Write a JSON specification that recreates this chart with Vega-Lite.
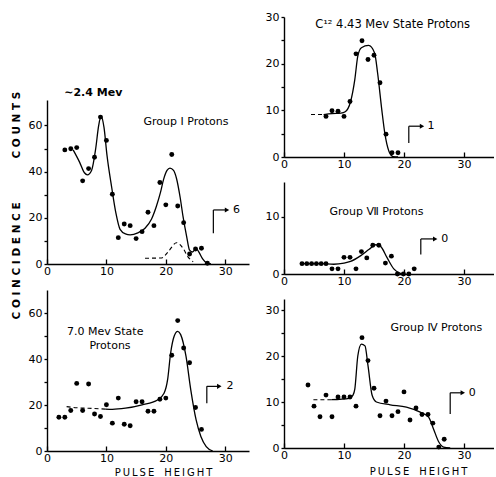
{
  "$schema": "https://vega.github.io/schema/vega-lite/v6.json",
  "padding": {"left": 10, "top": 11, "right": 0, "bottom": 0},
  "background": "white",
  "spacing": 16,
  "hconcat": [
    {
      "vconcat": [
        {
          "width": 202,
          "height": 57,
          "data": {"values": []},
          "mark": {"type": "point"},
          "encoding": {}
        },
        {
          "width": 202,
          "height": 164,
          "encoding": {
            "x": {"field": "x", "type": "quantitative", "scale": {"domain": [0, 34], "nice": false},
                  "axis": {"values": [0, 10, 20, 30], "tickSize": -5, "labelPadding": 6, "labelFlush": false, "title": null}},
            "y": {"field": "y", "type": "quantitative", "scale": {"domain": [0, 71], "nice": false},
                  "axis": {"values": [0, 10, 20, 30, 40, 50, 60], "labelExpr": "datum.value % 20 === 0 ? datum.label : ''", "tickSize": 3, "labelPadding": 2,
                           "title": "C O I N C I D E N C E\u00a0\u00a0\u00a0\u00a0\u00a0\u00a0\u00a0\u00a0\u00a0\u00a0\u00a0\u00a0C O U N T S", "titleX": -31, "titleY": 105, "titleAngle": -90, "titleBaseline": "middle", "titleAlign": "center", "titleFontSize": 10.5, "titleFontWeight": "bold"}}
          },
          "layer": [
            {
              "data": {"values": [
                {"x": 3, "y": 49.4}, {"x": 4, "y": 49.9}, {"x": 5, "y": 50.4}, {"x": 6, "y": 36}, {"x": 7, "y": 41.3},
                {"x": 8, "y": 46.2}, {"x": 9, "y": 63.6}, {"x": 10, "y": 53.5}, {"x": 11, "y": 30.2}, {"x": 12, "y": 11.4},
                {"x": 13, "y": 17.3}, {"x": 14, "y": 16.6}, {"x": 15, "y": 11}, {"x": 16, "y": 14}, {"x": 17, "y": 22.4},
                {"x": 18, "y": 16.6}, {"x": 19, "y": 35.3}, {"x": 20, "y": 25.6}, {"x": 21, "y": 47.4}, {"x": 22, "y": 25.1},
                {"x": 23, "y": 17.9}, {"x": 24, "y": 4.3}, {"x": 25, "y": 6.5}, {"x": 26, "y": 6.8}, {"x": 27, "y": 0.3}
              ]},
              "mark": {"type": "circle", "size": 24, "color": "black", "opacity": 1}
            },
            {
              "data": {"values": [
                {"x": 4.4, "y": 49.4}, {"x": 5.5, "y": 44}, {"x": 6.3, "y": 39.5}, {"x": 6.8, "y": 38.6}, {"x": 7.5, "y": 40.5},
                {"x": 8.2, "y": 50}, {"x": 8.7, "y": 60}, {"x": 9.1, "y": 64}, {"x": 9.6, "y": 59}, {"x": 10.1, "y": 47},
                {"x": 10.9, "y": 33}, {"x": 11.6, "y": 22}, {"x": 12.3, "y": 15}, {"x": 13.2, "y": 13}, {"x": 14, "y": 12.6},
                {"x": 15.3, "y": 13.5}, {"x": 16.5, "y": 15.5}, {"x": 17.6, "y": 19.5}, {"x": 18.4, "y": 24.9}, {"x": 19.1, "y": 31},
                {"x": 19.6, "y": 36.4}, {"x": 20.2, "y": 40.5}, {"x": 20.7, "y": 41.5}, {"x": 21.3, "y": 40.5}, {"x": 21.8, "y": 37},
                {"x": 22.4, "y": 29}, {"x": 22.9, "y": 20.5}, {"x": 23.5, "y": 12}, {"x": 24, "y": 6}, {"x": 24.5, "y": 5.2},
                {"x": 25.1, "y": 6.8}, {"x": 25.6, "y": 5}, {"x": 26.2, "y": 2.2}, {"x": 26.8, "y": 0.6}, {"x": 27.6, "y": 0}
              ]},
              "mark": {"type": "line", "interpolate": "monotone", "color": "black", "strokeWidth": 1.3}
            },
            {
              "data": {"values": [
                {"x": 16.5, "y": 2.5}, {"x": 19.3, "y": 2.6}, {"x": 20.4, "y": 5.3}, {"x": 21.8, "y": 9.2}, {"x": 22.9, "y": 6.8},
                {"x": 23.7, "y": 3.2}, {"x": 24.6, "y": 1}
              ]},
              "mark": {"type": "line", "interpolate": "monotone", "color": "black", "strokeWidth": 1.1, "strokeDash": [4, 3]}
            },
            {
              "data": {"values": [{"x": 23.4, "y": 61.5, "t": "Group Ⅰ Protons"}]},
              "mark": {"type": "text", "fontSize": 11, "font": "DejaVu Sans", "color": "black"},
              "encoding": {"text": {"field": "t"}}
            },
            {
              "data": {"values": [{"x": 2.9, "y": 73.9, "t": "∼2.4 Mev"}]},
              "mark": {"type": "text", "align": "left", "fontSize": 11, "fontWeight": "bold", "font": "DejaVu Sans", "color": "black"},
              "encoding": {"text": {"field": "t"}}
            },
            {
              "data": {"values": [{"x": 28, "y": 13.3, "ytop": 23.4, "xend": 30.3, "xl": 31.3, "label": "6"}]},
              "layer": [
                {"mark": {"type": "rule", "color": "black", "strokeWidth": 1.2},
                 "encoding": {"y2": {"field": "ytop"}}},
                {"mark": {"type": "rule", "color": "black", "strokeWidth": 1.2},
                 "encoding": {"x2": {"field": "xend"}, "y": {"field": "ytop", "type": "quantitative", "title": null}}},
                {"mark": {"type": "point", "shape": "triangle-right", "filled": true, "size": 26, "color": "black", "opacity": 1},
                 "encoding": {"x": {"field": "xend", "type": "quantitative", "title": null}, "y": {"field": "ytop", "type": "quantitative", "title": null}}},
                {"mark": {"type": "text", "align": "left", "fontSize": 11, "font": "DejaVu Sans", "color": "black"},
                 "encoding": {"x": {"field": "xl", "type": "quantitative", "title": null}, "y": {"field": "ytop", "type": "quantitative", "title": null}, "text": {"field": "label"}}}
              ]
            }
          ]
        },
        {
          "width": 202,
          "height": 161,
          "encoding": {
            "x": {"field": "x", "type": "quantitative", "scale": {"domain": [0, 34], "nice": false},
                  "axis": {"values": [0, 10, 20, 30], "tickSize": -5, "labelPadding": 6, "labelFlush": false,
                           "title": "P\u2009U\u2009L\u2009S\u2009E\u2003H\u2009E\u2009I\u2009G\u2009H\u2009T", "titleX": 116, "titleY": 21, "titleBaseline": "middle", "titleAlign": "center", "titleFontSize": 10, "titleFontWeight": "normal"}},
            "y": {"field": "y", "type": "quantitative", "scale": {"domain": [0, 70], "nice": false},
                  "axis": {"values": [0, 10, 20, 30, 40, 50, 60], "labelExpr": "datum.value % 20 === 0 ? datum.label : ''", "tickSize": 3, "labelPadding": 2, "title": null}}
          },
          "layer": [
            {
              "data": {"values": [
                {"x": 2, "y": 14.7}, {"x": 3, "y": 14.7}, {"x": 4, "y": 17.6}, {"x": 5, "y": 29.4}, {"x": 6, "y": 17.6},
                {"x": 7, "y": 29.1}, {"x": 8, "y": 16.1}, {"x": 9, "y": 15}, {"x": 10, "y": 20.1}, {"x": 11, "y": 12.1},
                {"x": 12, "y": 23}, {"x": 13, "y": 11.6}, {"x": 14, "y": 11}, {"x": 15, "y": 21.4}, {"x": 16, "y": 21.4},
                {"x": 17, "y": 17.3}, {"x": 18, "y": 17.3}, {"x": 19, "y": 22.5}, {"x": 20, "y": 23}, {"x": 21, "y": 41.6},
                {"x": 22, "y": 56.7}, {"x": 23, "y": 44.8}, {"x": 24, "y": 38.4}, {"x": 25, "y": 18.9}, {"x": 26, "y": 9.4}
              ]},
              "mark": {"type": "circle", "size": 24, "color": "black", "opacity": 1}
            },
            {
              "data": {"values": [
                {"x": 9.8, "y": 18.2}, {"x": 11, "y": 18.1}, {"x": 13.2, "y": 18.6}, {"x": 16, "y": 20.1}, {"x": 18.6, "y": 22.2},
                {"x": 19.7, "y": 25.1}, {"x": 20.3, "y": 31}, {"x": 20.8, "y": 42.4}, {"x": 21.4, "y": 49.9}, {"x": 22, "y": 52},
                {"x": 22.5, "y": 50.6}, {"x": 23.4, "y": 41.1}, {"x": 24.2, "y": 26.6}, {"x": 25.1, "y": 13.5}, {"x": 25.9, "y": 6.3},
                {"x": 26.8, "y": 1.9}, {"x": 27.9, "y": 0}
              ]},
              "mark": {"type": "line", "interpolate": "monotone", "color": "black", "strokeWidth": 1.3}
            },
            {
              "data": {"values": [{"x": 3.3, "y": 19.3}, {"x": 5, "y": 18.8}, {"x": 7, "y": 18.6}, {"x": 9.8, "y": 18.2}]},
              "mark": {"type": "line", "interpolate": "monotone", "color": "black", "strokeWidth": 1.1, "strokeDash": [4, 3]}
            },
            {
              "data": {"values": [{"x": 9.8, "y": 51.6, "t": "7.0 Mev State"}, {"x": 10.6, "y": 45.5, "t": "Protons"}]},
              "mark": {"type": "text", "fontSize": 11, "font": "DejaVu Sans", "color": "black"},
              "encoding": {"text": {"field": "t"}}
            },
            {
              "data": {"values": [{"x": 26.9, "y": 20.8, "ytop": 28.1, "xend": 29, "xl": 30.2, "label": "2"}]},
              "layer": [
                {"mark": {"type": "rule", "color": "black", "strokeWidth": 1.2},
                 "encoding": {"y2": {"field": "ytop"}}},
                {"mark": {"type": "rule", "color": "black", "strokeWidth": 1.2},
                 "encoding": {"x2": {"field": "xend"}, "y": {"field": "ytop", "type": "quantitative", "title": null}}},
                {"mark": {"type": "point", "shape": "triangle-right", "filled": true, "size": 26, "color": "black", "opacity": 1},
                 "encoding": {"x": {"field": "xend", "type": "quantitative", "title": null}, "y": {"field": "ytop", "type": "quantitative", "title": null}}},
                {"mark": {"type": "text", "align": "left", "fontSize": 11, "font": "DejaVu Sans", "color": "black"},
                 "encoding": {"x": {"field": "xl", "type": "quantitative", "title": null}, "y": {"field": "ytop", "type": "quantitative", "title": null}, "text": {"field": "label"}}}
              ]
            }
          ]
        }
      ],
      "spacing": 26,
      "bounds": "flush"
    },
    {
      "vconcat": [
        {
          "width": 210,
          "height": 140,
          "encoding": {
            "x": {"field": "x", "type": "quantitative", "scale": {"domain": [0, 35], "nice": false},
                  "axis": {"values": [0, 10, 20, 30], "tickSize": -5, "labelPadding": 6, "labelFlush": false, "title": null}},
            "y": {"field": "y", "type": "quantitative", "scale": {"domain": [0, 30], "nice": false},
                  "axis": {"values": [0, 5, 10, 15, 20, 25, 30], "labelExpr": "datum.value % 10 === 0 ? datum.label : ''", "tickSize": 3, "labelPadding": 2, "title": null}}
          },
          "layer": [
            {
              "data": {"values": [
                {"x": 7, "y": 8.7}, {"x": 8, "y": 9.9}, {"x": 9, "y": 9.8}, {"x": 10, "y": 8.7}, {"x": 11, "y": 11.9},
                {"x": 12, "y": 22.1}, {"x": 13, "y": 24.9}, {"x": 14, "y": 20.9}, {"x": 15, "y": 21.8}, {"x": 16, "y": 15.9},
                {"x": 17, "y": 4.9}, {"x": 18, "y": 0.9}, {"x": 19, "y": 0.9}
              ]},
              "mark": {"type": "circle", "size": 24, "color": "black", "opacity": 1}
            },
            {
              "data": {"values": [
                {"x": 6.6, "y": 9.1}, {"x": 8, "y": 9.3}, {"x": 9.5, "y": 9.4}, {"x": 10.2, "y": 9.7}, {"x": 11.1, "y": 11.9},
                {"x": 11.8, "y": 16.6}, {"x": 12.3, "y": 21.6}, {"x": 12.9, "y": 23.4}, {"x": 14.1, "y": 23.9}, {"x": 15.1, "y": 22.3},
                {"x": 15.6, "y": 18}, {"x": 16.3, "y": 10.1}, {"x": 16.8, "y": 5.1}, {"x": 17.5, "y": 1.2}, {"x": 18.2, "y": 0.1}, {"x": 19, "y": 0}
              ]},
              "mark": {"type": "line", "interpolate": "monotone", "color": "black", "strokeWidth": 1.3}
            },
            {
              "data": {"values": [{"x": 4.5, "y": 9.1}, {"x": 6.6, "y": 9.1}]},
              "mark": {"type": "line", "color": "black", "strokeWidth": 1.1, "strokeDash": [4, 3]}
            },
            {
              "data": {"values": [{"x": 5.2, "y": 28.2, "t": "C¹² 4.43 Mev State Protons"}]},
              "mark": {"type": "text", "align": "left", "fontSize": 11.5, "font": "DejaVu Sans", "color": "black"},
              "encoding": {"text": {"field": "t"}}
            },
            {
              "data": {"values": [{"x": 20.8, "y": 3, "ytop": 6.6, "xend": 23, "xl": 23.9, "label": "1"}]},
              "layer": [
                {"mark": {"type": "rule", "color": "black", "strokeWidth": 1.2},
                 "encoding": {"y2": {"field": "ytop"}}},
                {"mark": {"type": "rule", "color": "black", "strokeWidth": 1.2},
                 "encoding": {"x2": {"field": "xend"}, "y": {"field": "ytop", "type": "quantitative", "title": null}}},
                {"mark": {"type": "point", "shape": "triangle-right", "filled": true, "size": 26, "color": "black", "opacity": 1},
                 "encoding": {"x": {"field": "xend", "type": "quantitative", "title": null}, "y": {"field": "ytop", "type": "quantitative", "title": null}}},
                {"mark": {"type": "text", "align": "left", "fontSize": 11, "font": "DejaVu Sans", "color": "black"},
                 "encoding": {"x": {"field": "xl", "type": "quantitative", "title": null}, "y": {"field": "ytop", "type": "quantitative", "title": null}, "text": {"field": "label"}}}
              ]
            }
          ]
        },
        {
          "width": 210,
          "height": 92,
          "encoding": {
            "x": {"field": "x", "type": "quantitative", "scale": {"domain": [0, 35], "nice": false},
                  "axis": {"values": [0, 10, 20, 30], "tickSize": -5, "labelPadding": 6, "labelFlush": false, "title": null}},
            "y": {"field": "y", "type": "quantitative", "scale": {"domain": [0, 16], "nice": false},
                  "axis": {"values": [0, 10], "tickSize": 3, "labelPadding": 2, "title": null}}
          },
          "layer": [
            {
              "data": {"values": [
                {"x": 3, "y": 1.8}, {"x": 3.8, "y": 1.8}, {"x": 4.6, "y": 1.8}, {"x": 5.4, "y": 1.8}, {"x": 6.2, "y": 1.8}, {"x": 7, "y": 1.8},
                {"x": 8, "y": 0.9}, {"x": 9, "y": 0.9}, {"x": 10, "y": 2.9}, {"x": 11, "y": 2.9}, {"x": 12, "y": 0.9},
                {"x": 12.9, "y": 3.9}, {"x": 13.8, "y": 2.8}, {"x": 14.8, "y": 5}, {"x": 15.8, "y": 5}, {"x": 16.9, "y": 1.9},
                {"x": 17.9, "y": 3.1}, {"x": 18.9, "y": 0}, {"x": 19.9, "y": 0}, {"x": 20.8, "y": 0}, {"x": 21.7, "y": 0.9}
              ]},
              "mark": {"type": "circle", "size": 24, "color": "black", "opacity": 1}
            },
            {
              "data": {"values": [
                {"x": 3, "y": 1.8}, {"x": 6, "y": 1.8}, {"x": 8.3, "y": 1.7}, {"x": 10, "y": 1.9}, {"x": 11.1, "y": 2.2},
                {"x": 12.8, "y": 3.2}, {"x": 14.2, "y": 4.3}, {"x": 15.3, "y": 5.1}, {"x": 16.1, "y": 4.8}, {"x": 17.2, "y": 2.8},
                {"x": 18.3, "y": 0.9}, {"x": 19.2, "y": 0.2}, {"x": 19.7, "y": 0}
              ]},
              "mark": {"type": "line", "interpolate": "monotone", "color": "black", "strokeWidth": 1.3}
            },
            {
              "data": {"values": [{"x": 15.4, "y": 10.7, "t": "Group Ⅶ Protons"}]},
              "mark": {"type": "text", "fontSize": 11, "font": "DejaVu Sans", "color": "black"},
              "encoding": {"text": {"field": "t"}}
            },
            {
              "data": {"values": [{"x": 22.8, "y": 3.4, "ytop": 6.1, "xend": 25.2, "xl": 26.2, "label": "0"}]},
              "layer": [
                {"mark": {"type": "rule", "color": "black", "strokeWidth": 1.2},
                 "encoding": {"y2": {"field": "ytop"}}},
                {"mark": {"type": "rule", "color": "black", "strokeWidth": 1.2},
                 "encoding": {"x2": {"field": "xend"}, "y": {"field": "ytop", "type": "quantitative", "title": null}}},
                {"mark": {"type": "point", "shape": "triangle-right", "filled": true, "size": 26, "color": "black", "opacity": 1},
                 "encoding": {"x": {"field": "xend", "type": "quantitative", "title": null}, "y": {"field": "ytop", "type": "quantitative", "title": null}}},
                {"mark": {"type": "text", "align": "left", "fontSize": 11, "font": "DejaVu Sans", "color": "black"},
                 "encoding": {"x": {"field": "xl", "type": "quantitative", "title": null}, "y": {"field": "ytop", "type": "quantitative", "title": null}, "text": {"field": "label"}}}
              ]
            }
          ]
        },
        {
          "width": 210,
          "height": 149,
          "encoding": {
            "x": {"field": "x", "type": "quantitative", "scale": {"domain": [0, 35], "nice": false},
                  "axis": {"values": [0, 10, 20, 30], "tickSize": -5, "labelPadding": 6, "labelFlush": false,
                           "title": "P\u2009U\u2009L\u2009S\u2009E\u2003H\u2009E\u2009I\u2009G\u2009H\u2009T", "titleX": 134, "titleY": 23, "titleBaseline": "middle", "titleAlign": "center", "titleFontSize": 10, "titleFontWeight": "normal"}},
            "y": {"field": "y", "type": "quantitative", "scale": {"domain": [0, 32.4], "nice": false},
                  "axis": {"values": [0, 5, 10, 15, 20, 25, 30], "labelExpr": "datum.value % 10 === 0 ? datum.label : ''", "tickSize": 3, "labelPadding": 2, "title": null}}
          },
          "layer": [
            {
              "data": {"values": [
                {"x": 4, "y": 13.7}, {"x": 5, "y": 9.1}, {"x": 6, "y": 6.8}, {"x": 7, "y": 11.5}, {"x": 8, "y": 6.8},
                {"x": 9, "y": 11.1}, {"x": 10, "y": 11.1}, {"x": 11, "y": 11.1}, {"x": 12, "y": 9.1}, {"x": 13, "y": 24},
                {"x": 14, "y": 19}, {"x": 15, "y": 13}, {"x": 16, "y": 7}, {"x": 17, "y": 10.2}, {"x": 18, "y": 7},
                {"x": 19, "y": 7.9}, {"x": 20, "y": 12.2}, {"x": 21, "y": 6.1}, {"x": 22, "y": 8.7}, {"x": 23, "y": 7.3},
                {"x": 24, "y": 7.3}, {"x": 24.8, "y": 5.4}, {"x": 25.8, "y": 0.2}, {"x": 26.7, "y": 1.9}
              ]},
              "mark": {"type": "circle", "size": 24, "color": "black", "opacity": 1}
            },
            {
              "data": {"values": [
                {"x": 7.9, "y": 10.5}, {"x": 10.9, "y": 10.8}, {"x": 11.5, "y": 11.5}, {"x": 11.8, "y": 12.8}, {"x": 12.3, "y": 20},
                {"x": 12.9, "y": 22.6}, {"x": 13.5, "y": 22.2}, {"x": 14, "y": 17.9}, {"x": 14.7, "y": 11.4}, {"x": 15.4, "y": 10},
                {"x": 17.7, "y": 9.4}, {"x": 20.4, "y": 8.9}, {"x": 22.7, "y": 7.8}, {"x": 24.1, "y": 6.7}, {"x": 24.9, "y": 4.2},
                {"x": 25.8, "y": 1.3}, {"x": 26.6, "y": 0.2}, {"x": 27.7, "y": 0}
              ]},
              "mark": {"type": "line", "interpolate": "monotone", "color": "black", "strokeWidth": 1.3}
            },
            {
              "data": {"values": [{"x": 4.9, "y": 10.5}, {"x": 7.9, "y": 10.5}]},
              "mark": {"type": "line", "color": "black", "strokeWidth": 1.1, "strokeDash": [4, 3]}
            },
            {
              "data": {"values": [{"x": 25.4, "y": 26, "t": "Group Ⅳ Protons"}]},
              "mark": {"type": "text", "fontSize": 11, "font": "DejaVu Sans", "color": "black"},
              "encoding": {"text": {"field": "t"}}
            },
            {
              "data": {"values": [{"x": 27.7, "y": 7.4, "ytop": 12, "xend": 29.8, "xl": 30.8, "label": "0"}]},
              "layer": [
                {"mark": {"type": "rule", "color": "black", "strokeWidth": 1.2},
                 "encoding": {"y2": {"field": "ytop"}}},
                {"mark": {"type": "rule", "color": "black", "strokeWidth": 1.2},
                 "encoding": {"x2": {"field": "xend"}, "y": {"field": "ytop", "type": "quantitative", "title": null}}},
                {"mark": {"type": "point", "shape": "triangle-right", "filled": true, "size": 26, "color": "black", "opacity": 1},
                 "encoding": {"x": {"field": "xend", "type": "quantitative", "title": null}, "y": {"field": "ytop", "type": "quantitative", "title": null}}},
                {"mark": {"type": "text", "align": "left", "fontSize": 11, "font": "DejaVu Sans", "color": "black"},
                 "encoding": {"x": {"field": "xl", "type": "quantitative", "title": null}, "y": {"field": "ytop", "type": "quantitative", "title": null}, "text": {"field": "label"}}}
              ]
            }
          ]
        }
      ],
      "spacing": 25,
      "bounds": "flush"
    }
  ],
  "config": {
    "view": {"stroke": null},
    "axis": {
      "grid": false, "domainColor": "black", "domainWidth": 1.4, "tickColor": "black", "tickWidth": 1.3,
      "labelColor": "black", "labelFont": "DejaVu Sans", "labelFontSize": 11, "titleColor": "black", "titleFont": "DejaVu Sans"
    }
  }
}
